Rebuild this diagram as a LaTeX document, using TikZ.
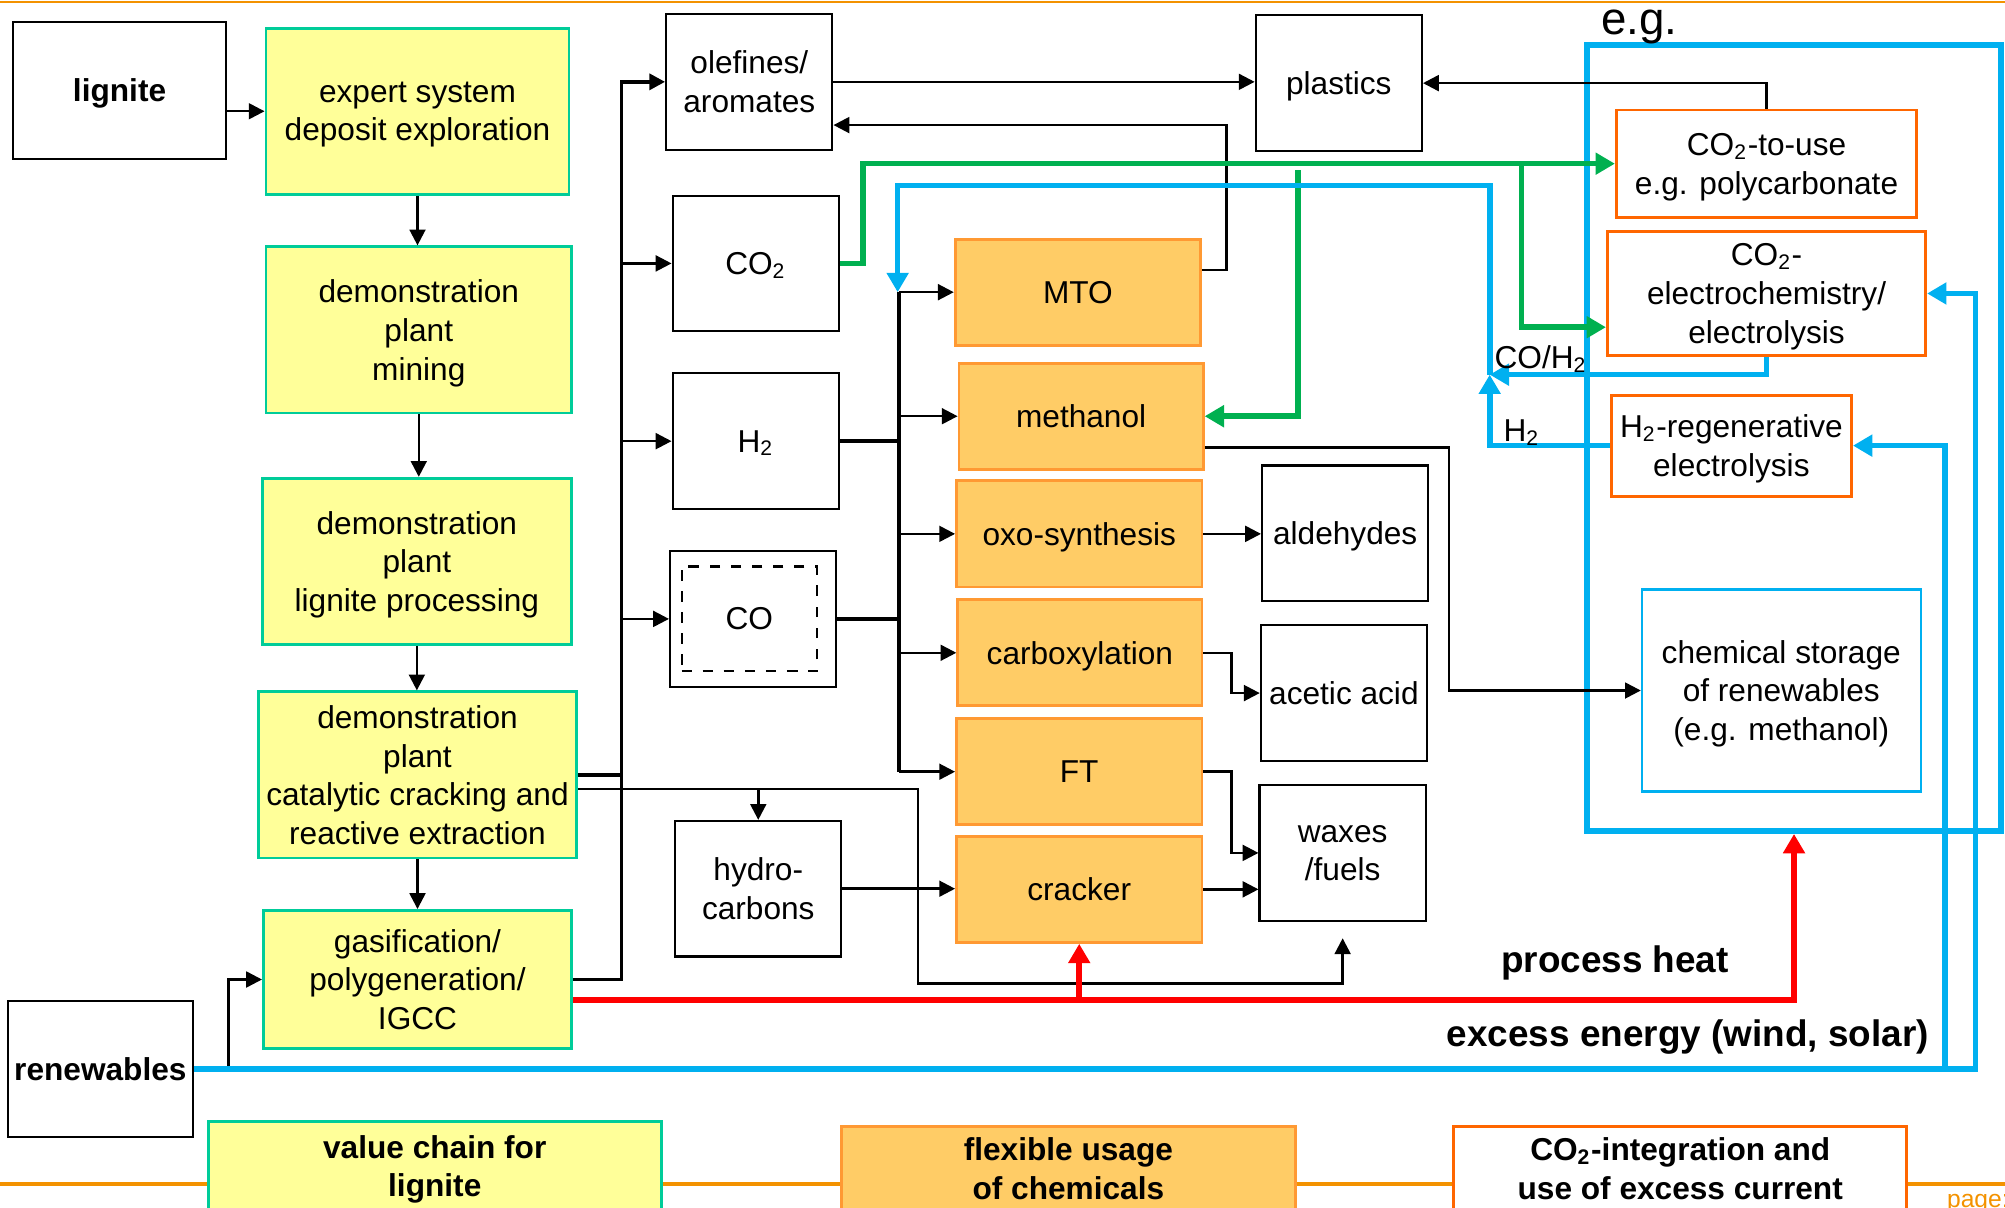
\documentclass[tikz,border=0pt]{standalone}
\usepackage{fontspec}
\setmainfont{Liberation Sans}
\usetikzlibrary{arrows.meta}
\definecolor{chainfill}{HTML}{FFFF99}
\definecolor{chainline}{HTML}{00CC99}
\definecolor{chemfill}{HTML}{FFCC66}
\definecolor{chemline}{HTML}{FF9933}
\definecolor{reuseline}{HTML}{FF6600}
\definecolor{flowblue}{HTML}{00B0F0}
\definecolor{flowgreen}{HTML}{00B050}
\definecolor{flowred}{HTML}{FF0000}
\definecolor{slideorange}{HTML}{F39200}
\newcommand{\pxu}{0.012787cm}

\begin{document}
\begin{tikzpicture}[x=\pxu, y=-\pxu,
    font=\fontsize{9}{11}\selectfont,
    wh/.style 2 args={minimum width=#1*\pxu, minimum height=#2*\pxu},
    box/.style={draw, line width=0.6pt, fill=white, inner sep=1pt, align=center, text depth=-1pt},
    chain/.style={box, fill=chainfill, draw=chainline, line width=0.8pt},
    chem/.style={box, fill=chemfill, draw=chemline, line width=0.8pt},
    reuse/.style={box, draw=reuseline, line width=0.8pt},
    flow/.style={line width=0.7pt, -{Triangle[length=4.5pt, width=4.5pt]}},
    busflow/.style={flow, line width=1.1pt},
    bus/.style={line width=1.1pt},
    thickflow/.style={line width=1.6pt, -{Triangle[length=5.5pt, width=6pt]}},
    gflow/.style={thickflow, flowgreen},
    bflow/.style={thickflow, flowblue},
    rflow/.style={thickflow, flowred},
    slideline/.style={slideorange, line width=1.2pt},
    tag/.style={font=\bfseries\fontsize{9}{11}\selectfont},
    biglabel/.style={font=\bfseries\fontsize{10.5}{12}\selectfont}]
  \useasboundingbox (0,0) rectangle (1568,944);

  % slide frame
  \draw[slideline, line width=0.8pt] (0,1.5) -- (1568,1.5);
  \draw[slideline] (0,926) -- (1568,926);

  % e.g. frame
  \node[draw=flowblue, line width=1.6pt, wh={324}{615}] (egbox) at (1403,342.5) {};
  \node[font=\fontsize{13}{15}\selectfont, anchor=base] (lbleg) at (1282,27) {e.g.};

  % value chain for lignite
  \node[box, wh={167}{107}] (lignite) at (93.5,70.5) {\textbf{lignite}};
  \node[chain, wh={237}{130}] (expert) at (326.5,87) {expert system\\deposit exploration};
  \node[chain, wh={239}{130}] (mining) at (327.5,258) {demonstration\\plant\\mining};
  \node[chain, wh={242}{130}] (process) at (326,439) {demonstration\\plant\\lignite processing};
  \node[chain, wh={249}{130}] (crack) at (326.5,606) {demonstration\\plant\\catalytic cracking and\\reactive extraction};
  \node[chain, wh={241}{108}] (gasif) at (326.5,766) {gasification/\\polygeneration/\\IGCC};
  \node[box, wh={145}{106}] (renew) at (78.5,836) {\textbf{renewables}};

  % intermediates
  \node[box, wh={130}{106}] (olefin) at (586,64) {olefines/\\aromates};
  \node[box, wh={130}{106}] (co2) at (591,206) {CO\textsubscript{2}};
  \node[box, wh={130}{106}] (hyd) at (591,345) {H\textsubscript{2}};
  \node[box, wh={130}{106}] (co) at (589,484) {};
  \node[draw, dashed, line width=0.6pt, wh={106}{82}] (coinner) at (586,484) {CO};
  \node[box, wh={130}{106}] (hydro) at (593,695) {hydro-\\carbons};

  % flexible usage of chemicals
  \node[chem, wh={192}{83}] (mto) at (843,228.5) {MTO};
  \node[chem, wh={191}{83}] (meoh) at (845.5,325.5) {methanol};
  \node[chem, wh={192}{83}] (oxo) at (844,417.5) {oxo-synthesis};
  \node[chem, wh={191}{83}] (carbox) at (844.5,510.5) {carboxylation};
  \node[chem, wh={192}{83}] (ft) at (844,603.5) {FT};
  \node[chem, wh={192}{83}] (cracker) at (844,695.5) {cracker};

  % products
  \node[box, wh={130}{106}] (plastic) at (1047,65) {plastics};
  \node[box, wh={130}{106}] (aldeh) at (1052,417) {aldehydes};
  \node[box, wh={130}{106}] (acetic) at (1051,542) {acetic acid};
  \node[box, wh={130}{106}] (waxes) at (1050,667) {waxes\\/fuels};

  % CO2 integration
  \node[reuse, wh={235}{84}] (co2use) at (1381.5,128) {CO\textsubscript{2}-to-use\\e.g. polycarbonate};
  \node[reuse, wh={249}{97}] (electro) at (1381.5,229.5) {CO\textsubscript{2}-\\electrochemistry/\\electrolysis};
  \node[reuse, wh={188}{79}] (h2regen) at (1354,348.5) {H\textsubscript{2}-regenerative\\electrolysis};
  \node[box, draw=flowblue, wh={218}{158}] (storage) at (1393,540) {chemical storage\\of renewables\\(e.g. methanol)};

  % chain
  \draw[flow] (lignite.east |- expert.west) -- (expert.west);
  \foreach \a/\b in {expert/mining, mining/process, process/crack, crack/gasif}
    \draw[flow] (\a.south) -- (\a.south |- \b.north);
  \draw[flow] (renew.east) -- ++(27,0) |- (gasif.west);

  % feed bus
  \coordinate (feedbus) at (486,0);
  \draw[busflow] (gasif.east) -| (feedbus |- olefin.west) -- (olefin.west);
  \foreach \n in {co2,hyd,co}
    \draw[flow] (feedbus |- \n.west) -- (\n.west);
  \draw[bus] (crack.east) -- (crack.east -| feedbus);
  \coordinate (crackout) at ([yshift=-4pt]crack.east);
  \draw[flow] (crackout) -- ++(266,0) -- ++(0,152) -| ([yshift=-4.7pt]waxes.south);
  \draw[flow] (crackout -| hydro.north) -- (hydro.north);
  \draw[flow] (hydro.east) -- (hydro.east -| cracker.west);

  % synthesis bus
  \coordinate (synbus) at (703,0);
  \draw[bus] (hyd.east) -- (hyd.east -| synbus);
  \draw[bus] (co.east) -- (co.east -| synbus);
  \draw[line width=0.9pt] (synbus |- mto.west) -- (synbus |- ft.west);
  \foreach \n in {mto,meoh,oxo,carbox,ft}
    \draw[flow] (synbus |- \n.west) -- (\n.west);

  % products
  \draw[flow] ([yshift=6.3pt]mto.east) -- ++(19,0) |- ([yshift=-12.3pt]olefin.east);
  \draw[flow] (olefin.east) -- (olefin.east -| plastic.west);
  \draw[flow] (co2use.north) |- (plastic.east);
  \draw[flow] (oxo.east) -- (oxo.east -| aldeh.west);
  \draw[flow] (carbox.east) -- ++(22,0) |- (acetic.west);
  \draw[flow] (ft.east) -- ++(22,0) |- (waxes.west);
  \draw[flow] (cracker.east) -- (cracker.east -| waxes.west);
  \draw[flow] ([yshift=-8.9pt]meoh.east) -- ++(191,0) |- (storage.west);

  % CO2 (green)
  \coordinate (gtapA) at (1015,133);
  \coordinate (gtapB) at (1190,128);
  \draw[gflow] (co2.east) -- ++(18,0) |- (co2use.west);
  \draw[gflow] (gtapA) |- (meoh.east);
  \draw[gflow] (gtapB) |- ([yshift=-9.6pt]electro.west);

  % CO/H2 back to synthesis (blue)
  \coordinate (bmerge) at (1165,293);
  \coordinate (btop) at (702,145);
  \draw[bflow] (electro.south) |- (bmerge);
  \draw[bflow] (h2regen.west) -| (bmerge);
  \draw[bflow] (bmerge) |- (btop) -- (btop |- mto.west);
  \node (lblcoh) at (1205,281) {CO/H\textsubscript{2}};
  \node (lblh) at (1190,338) {H\textsubscript{2}};

  % excess energy
  \coordinate (eouter) at (1545,836);
  \coordinate (einner) at (1521,836);
  \draw[bflow] (renew.east) -- (eouter) |- (electro.east);
  \draw[bflow] (einner) |- (h2regen.east);
  \node[biglabel] (lblexcess) at (1320,811) {excess energy (wind, solar)};

  % process heat
  \coordinate (heatout) at ([yshift=-5.8pt]gasif.east);
  \draw[rflow] (heatout) -| (egbox.south);
  \draw[rflow] (heatout -| cracker.south) -- (cracker.south);
  \node[biglabel] (lblheat) at (1263,753) {process heat};

  % footer tags
  \node[chain, tag, wh={354}{70}] (tagchain) at (340,912) {value chain for\\lignite};
  \node[chem, tag, wh={355}{66}] (tagchem) at (835.5,914) {flexible usage\\of chemicals};
  \node[reuse, tag, wh={354}{66}] (tagco2) at (1314,914) {CO\textsubscript{2}-integration and\\use of excess current};
  \node[text=slideorange, font=\fontsize{7}{8}\selectfont, anchor=base west] (pagelbl) at (1513,944) {page:};
\end{tikzpicture}
\end{document}
